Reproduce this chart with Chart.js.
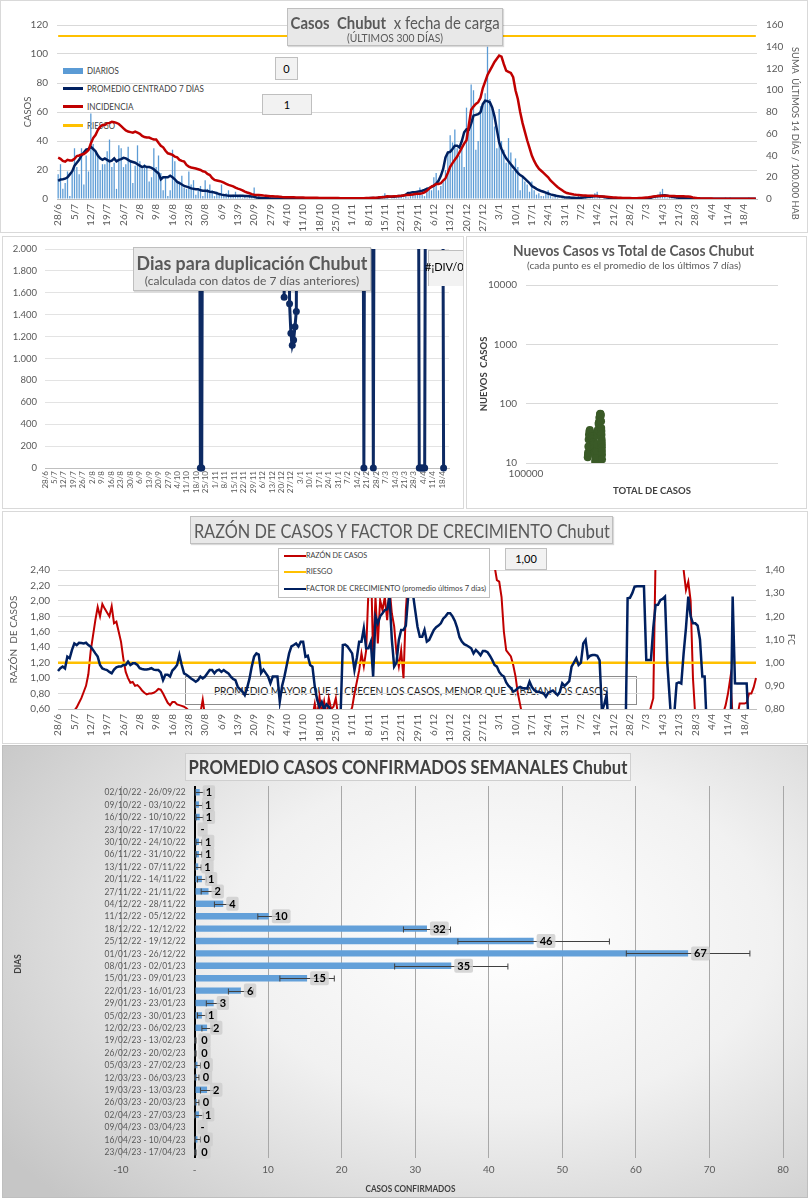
<!DOCTYPE html>
<html><head><meta charset="utf-8">
<script src="https://cdn.jsdelivr.net/npm/chart.js@4.4.1/dist/chart.umd.min.js"></script>
<style>
body{margin:0;background:#fff;width:808px;height:1200px;position:relative;overflow:hidden;font-family:Lato,'Open Sans',sans-serif;}
.panel{position:absolute;box-sizing:border-box;border:1px solid #d9d9d9;z-index:2;}
.panel canvas{position:absolute;left:0;top:0;}
.ov{position:absolute;box-sizing:border-box;z-index:3;}
.un{position:absolute;box-sizing:border-box;z-index:1;}
.tbox{background:#e8e8e8;border:1px solid #bfbfbf;color:#595959;box-shadow:1px 1px 1px rgba(0,0,0,0.15);white-space:nowrap;}
.vbox{background:#f2f2f2;border:1px solid #bfbfbf;color:#000;text-align:center;font-size:11px;}
.leg{position:absolute;font-size:9px;color:#404040;white-space:nowrap;}
.sw{position:absolute;}
.c{display:flex;justify-content:center;align-items:center;white-space:nowrap;}
.fit{display:inline-block;white-space:nowrap;transform-origin:center center;flex:none;}
.fitl{display:inline-block;white-space:nowrap;transform-origin:left center;}
</style></head>
<body>

<!-- ========== PANEL 1 ========== -->
<div class="un" style="left:0;top:0;width:808px;height:233px;">
  <div class="sw" style="left:63px;top:68px;width:20px;height:6px;background:#5B9BD5;"></div>
  <div class="leg" style="left:87px;top:65px;"><span class="fitl" data-w="32">DIARIOS</span></div>
  <div class="sw" style="left:63px;top:87px;width:20px;height:3px;background:#002060;"></div>
  <div class="leg" style="left:87px;top:83px;"><span class="fitl" data-w="117">PROMEDIO CENTRADO 7 DÍAS</span></div>
  <div class="sw" style="left:63px;top:105px;width:20px;height:3px;background:#C00000;"></div>
  <div class="leg" style="left:87px;top:101px;"><span class="fitl" data-w="46">INCIDENCIA</span></div>
  <div class="sw" style="left:63px;top:124px;width:20px;height:3px;background:#FFC000;"></div>
  <div class="leg" style="left:87px;top:120px;"><span class="fitl" data-w="28">RIESGO</span></div>
</div>
<div class="panel" style="left:0;top:0;width:808px;height:233px;"><canvas id="c1" width="806" height="231"></canvas></div>
<div class="ov c" style="left:695px;top:126px;width:200px;height:14px;font-size:9.5px;line-height:14px;color:#595959;transform:rotate(90deg);transform-origin:center center;"><span class="fit" data-w="173">SUMA&nbsp; ÚLTIMOS 14 DÍAS / 100.000 HAB</span></div>
<div class="ov tbox" style="left:287px;top:8px;width:216px;height:38px;">
  <div class="c" style="font-size:17px;height:20px;margin-top:3px;"><span class="fit" data-w="209"><b>Casos&nbsp; Chubut</b>&nbsp; x fecha de carga</span></div>
  <div class="c" style="font-size:10.5px;height:12px;"><span class="fit" data-w="96">(ÚLTIMOS 300 DÍAS)</span></div>
</div>
<div class="ov vbox" style="left:275px;top:57px;width:23px;height:23px;line-height:21px;">0</div>
<div class="ov vbox" style="left:262px;top:94px;width:50px;height:21px;line-height:19px;">1</div>

<!-- ========== PANEL 2 ========== -->
<div class="panel" style="left:2px;top:236px;width:462px;height:273px;"><canvas id="c2" width="460" height="271"></canvas></div>
<div class="ov tbox" style="left:133px;top:247px;width:238px;height:44px;">
  <div class="c" style="font-size:18px;height:21px;margin-top:4px;font-weight:bold;"><span class="fit" data-w="231">Dias para duplicación Chubut</span></div>
  <div class="c" style="font-size:12px;height:14px;"><span class="fit" data-w="214">(calculada con datos de 7 días anteriores)</span></div>
</div>
<div class="ov" style="left:423px;top:250px;width:40px;height:36px;overflow:hidden;">
  <div class="vbox" style="position:absolute;left:5px;top:0;width:40px;height:35px;"></div>
  <div style="position:absolute;left:2px;top:10px;font-size:11px;color:#000;white-space:nowrap;">#¡DIV/0!</div>
</div>

<!-- ========== PANEL 3 ========== -->
<div class="panel" style="left:466px;top:236px;width:341px;height:273px;"><canvas id="c3" width="339" height="271"></canvas></div>
<div class="ov c" style="left:466px;top:241px;width:336px;height:18px;font-size:15px;font-weight:bold;color:#595959;"><span class="fit" data-w="241">Nuevos Casos vs Total de Casos Chubut</span></div>
<div class="ov c" style="left:466px;top:259px;width:336px;height:12px;font-size:10px;color:#595959;"><span class="fit" data-w="214">(cada punto es el promedio de los últimos 7 días)</span></div>

<!-- ========== PANEL 4 ========== -->
<div class="un c" style="left:185px;top:676px;width:452px;height:29px;border:1px solid #8c8c8c;font-size:11px;color:#262626;"><span class="fit" data-w="394">PROMEDIO MAYOR QUE 1, CRECEN LOS CASOS, MENOR QUE 1, BAJAN LOS CASOS</span></div>
<div class="panel" style="left:2px;top:511px;width:806px;height:233px;"><canvas id="c4" width="804" height="231"></canvas></div>
<div class="ov tbox c" style="left:190px;top:516px;width:423px;height:28px;font-size:20px;"><span class="fit" data-w="416">RAZÓN DE CASOS Y FACTOR DE CRECIMIENTO Chubut</span></div>
<div class="ov" style="left:278px;top:548px;width:212px;height:50px;background:#fff;border:1px solid #bfbfbf;">
  <div class="sw" style="left:5px;top:6px;width:22px;height:2px;background:#C00000;"></div>
  <div class="leg" style="left:27px;top:1px;font-size:8px;"><span class="fitl" data-w="61">RAZÓN DE CASOS</span></div>
  <div class="sw" style="left:5px;top:22px;width:22px;height:2px;background:#FFC000;"></div>
  <div class="leg" style="left:27px;top:17px;font-size:8px;"><span class="fitl" data-w="26">RIESGO</span></div>
  <div class="sw" style="left:5px;top:39px;width:22px;height:2px;background:#002060;"></div>
  <div class="leg" style="left:27px;top:34px;font-size:8px;"><span class="fitl" data-w="180">FACTOR DE CRECIMIENTO (promedio últimos 7 días)</span></div>
</div>
<div class="ov vbox" style="left:505px;top:548px;width:42px;height:22px;line-height:20px;">1,00</div>

<!-- ========== PANEL 5 ========== -->
<div class="panel" style="left:2px;top:745px;width:806px;height:453px;border-color:#bfbfbf;background:radial-gradient(ellipse 75% 85% at 62% 42%, #ffffff 0%, #f1f1f1 45%, #d6d6d6 80%, #c6c6c6 100%);"><canvas id="c5" width="804" height="451"></canvas></div>
<div class="ov c" style="left:185px;top:753px;width:446px;height:28px;border:1px solid #cfcfcf;background:rgba(255,255,255,0.35);font-size:18px;font-weight:bold;color:#404040;"><span class="fit" data-w="439">PROMEDIO CASOS CONFIRMADOS SEMANALES Chubut</span></div>
<div class="ov c" style="left:340px;top:1182px;width:140px;height:12px;font-size:9px;font-weight:bold;color:#404040;"><span class="fit" data-w="90">CASOS CONFIRMADOS</span></div>
<div class="ov c" style="left:0px;top:958px;width:36px;height:12px;font-size:8.5px;font-weight:bold;color:#404040;transform:rotate(-90deg);transform-origin:center center;">DIAS</div>

<script>
// ---------------- DATA ----------------
const numeroDias = 300; // 28/6/2022 .. 23/4/2023
const etiquetasSemana = ['28/6','5/7','12/7','19/7','26/7','2/8','9/8','16/8','23/8','30/8','6/9','13/9','20/9','27/9','4/10','11/10','18/10','25/10','1/11','8/11','15/11','22/11','29/11','6/12','13/12','20/12','27/12','3/1','10/1','17/1','24/1','31/1','7/2','14/2','21/2','28/2','7/3','14/3','21/3','28/3','4/4','11/4','18/4'];

const diarios = [
17,24,7,11,19,2,18,
35,22,17,35,10,30,19,
59,38,33,30,20,24,24,
33,41,22,25,7,37,35,
22,24,36,26,11,23,37,
26,21,24,22,12,15,35,
22,30,18,6,15,2,6,
34,26,11,12,16,8,7,
19,10,13,3,6,9,2,
13,7,10,6,2,5,4,
10,3,4,6,2,3,5,
2,3,1,2,1,3,2,
8,1,2,1,0,3,1,
2,1,0,1,0,2,0,
1,0,0,1,0,0,1,
0,1,0,0,1,0,0,
0,0,1,0,0,0,0,
1,0,0,1,0,0,1,
0,1,0,1,0,0,1,
0,1,1,0,1,0,1,
4,1,0,2,1,1,2,
2,1,3,1,2,3,4,
5,8,3,2,8,7,6,
15,18,6,9,12,20,33,
44,39,48,35,30,36,22,
63,48,79,75,34,40,64,
64,73,105,69,62,50,35,
62,40,34,25,42,32,20,
28,22,6,15,12,10,5,
12,6,3,4,2,2,4,
6,2,1,3,1,0,2,
1,0,2,1,1,0,3,
3,1,2,0,1,2,4,
5,2,0,1,0,0,1,
0,1,0,0,0,1,0,
1,0,0,1,0,1,0,
0,0,1,0,1,2,5,
7,3,1,2,2,1,1,
0,1,0,1,0,0,1,
0,0,1,0,0,0,0,
0,0,0,0,0,0,1,
0,1,0,0,0,0,0,
0,0,1,0,0,0];

const promedio7 = [
12.5,13.5,13.6,14,15,17,19,23,25,27,
30,32,34,34.5,36,34.5,33,30,28,27,
28,27,26,26.5,28,26,27,27.5,28.4,28,
27,26,25.5,25,24,23,22,22.7,22,22,
21.5,20.5,19,17.7,13.6,15,15,15,16,15,
13.6,11.8,11,10,9,8.5,8,7.3,7,6.8,
6.8,6,5.7,5.7,5.5,5,4.8,4.5,4,3.4,
3,2.7,2.5,2.3,2.3,2.3,2.3,2.3,2.2,2.3,
2,2,1.9,1.8,1.5,1.1,0.9,0.7,0.5,0.5,
0.5,0.4,0.4,0.3,0.3,0.4,0.3,0.3,0.3,0.3,
0.4,0.3,0.3,0.3,0.2,0.3,0.3,0.2,0.3,0.3,
0.2,0.2,0.2,0.2,0.3,0.3,0.2,0.3,0.3,0.3,
0.3,0.4,0.3,0.4,0.4,0.3,0.4,0.4,0.5,0.4,
0.4,0.6,0.6,0.6,0.7,0.7,0.6,0.8,1.1,1.3,
1.4,1.4,1.6,1.6,1.6,1.9,2,2.1,2.4,3,
4.1,4.3,4.6,4.7,5,5.3,5.7,6.2,6.9,7.5,
8.3,9.2,10.5,12.6,16,20.7,28.7,32,32.5,34.5,
36.8,36.8,35.6,40,46,48,47.8,52,57.5,58,
58.5,59.8,65.5,67.8,67.5,66.7,63.2,57,48,39,
34.5,31,28,26,24,22,20,18,16.5,15.5,
14,12.5,11,9,8,7,6.2,5.5,5,4.4,
3.8,3.2,2.8,2.4,2,1.8,1.5,1.2,1.1,1,
0.9,0.8,0.7,0.7,0.8,1,1.2,1.4,1.6,1.8,
2,2,1.8,1.7,1.4,1.1,0.9,0.7,0.5,0.4,
0.3,0.3,0.3,0.4,0.4,0.4,0.4,0.3,0.4,0.4,
0.4,0.3,0.4,0.7,0.9,1.3,1.7,2,2.3,2.5,
2.6,2.3,2,1.6,1.3,1,0.9,0.7,0.6,0.6,
0.4,0.3,0.3,0.3,0.3,0.2,0.2,0.2,0.1,0.1,
0.1,0.1,0.2,0.2,0.2,0.2,0.2,0.2,0.2,0.1,
0.1,0.2,0.2,0.2,0.2,0.2,0.2,0.1,0.1,0.1];

const incidencia = [
38,37,35,34.3,36,35.5,35.5,37,39.5,40,
41,41.4,43,45,51,56,58.8,63.4,66.5,68,
68,69.6,70,71,70.5,70,69,67,65,63,
62,61.5,61,62,61,60,58,57,56.5,56.5,
55.5,54.8,54.8,51.8,49,47.5,44.4,42,41.4,40.5,
39,38.3,36,35,34.4,31.3,29.8,29,28.5,28,
27.4,26.7,25.5,25,23,22,19.3,17.5,17,16.5,
16,15,14,13,12.3,11.6,10.5,9.5,8.9,8,
6.8,6,5.3,4.5,4,3.7,3.7,3.5,3.2,3,
2.8,2.6,2.5,2.4,2.2,2,1.8,1.7,1.6,1.6,
1.5,1.5,1.4,1.4,1.3,1.3,1.2,1.2,1.2,1.1,
1.1,1.1,1,1,1,1,0.9,0.9,0.9,0.9,
0.9,0.8,0.8,0.8,0.8,0.8,0.8,0.8,0.7,0.7,
0.7,0.8,0.9,0.9,1,1.1,1.2,1.3,1.5,1.6,
1.8,2.5,2.4,2.2,2.5,2.6,2.8,3,3.3,3.6,
3.7,3.9,4.2,4.6,4.8,4.9,5.3,6.1,7.5,9.5,
11.5,12.3,13.8,13.8,14.5,17,19,24,29.6,33,
36,39,43,47,51,54,68,82,85,87.4,
89,93,102,108,114,118,122,126,129,132,
131,124,118,117,116,112,100,92,80,70,
62,54,47,40,35,31,28,26,24,22,
20,17,15,13,11,9.5,8,6.5,5.5,5,
4.6,4.2,3.9,3.7,3.5,3.3,3.2,3.1,3,2.9,
2.8,2.8,2.6,2.4,2.2,2,1.8,1.6,1.4,1.3,
1.2,1.1,1,1,0.9,0.9,0.8,0.8,0.8,0.9,
1,1.2,1.4,1.6,1.9,2.2,2.5,2.7,2.8,3,
3,2.9,2.8,2.8,2.7,2.6,2.6,2.5,2.5,2.4,
2.3,2,1.5,1.1,0.8,0.6,0.5,0.5,0.4,0.4,
0.4,0.3,0.3,0.3,0.3,0.3,0.3,0.3,0.3,0.3,
0.3,0.3,0.3,0.3,0.3,0.3,0.3,0.3,0.3,0.3];

const riesgoIncidencia = 150;

// days-to-doubling: only the days that have a value (others are empty)
const dupDias    = [114,115,116,117, 176,177,178,179,180,181,182,183,184,185,186,187, 235,236,237, 242,243,244, 276,277,278,279,280,281,282, 294,295];
const dupValores = [5000,0,0,5000, 5000,1560,5000,5000,5000,1500,1230,1120,1170,1290,1430,5000, 5000,0,5000, 5000,0,5000, 5000,0,0,0,0,0,5000, 5000,0];

// scatter: total cases vs new cases (7-day average)
const totalCasos = [175800,176100,176400,176800,177300,177800,178500,179200,179900,180500,181000,181600,182100,182600,183200,183700,184200,184700,185200,185600,186000,186400,186800,187100,187400,187700,188000,188200,188400,
190500,190800,191100,191400,191800,192200,192700,193200,193600,194100,194600,195100,195600,196100,196600,197100,197600,198100,198500,198800,199100,199300,199500,199700,199850,200000,200100,200200,200300];
const nuevosCasos = [12.5,13.6,15,19,25,30,34,36,33,28,28,26,26.5,26,27.5,28,26,25,23,22.7,22,20.5,17.7,15,15,15,13.6,11,10,
10.5,12.6,16,20.7,28.7,32,34.5,36.8,35.6,46,48,47.8,57.5,59.8,65.5,67.8,66.7,63.2,50.6,39,34.5,30,25.3,23,20.7,18.4,16,13.8,11.5];

const razonCasos = [
0.5,0.48,0.45,0.42,0.45,0.5,0.55,0.58,0.62,0.68,
0.74,0.82,0.9,1.05,1.35,1.55,1.75,1.92,1.8,1.96,
1.9,1.85,1.8,1.93,1.71,1.73,1.6,1.47,1.25,1.08,
1.0,0.94,0.95,0.9,0.91,0.88,0.84,0.81,0.79,0.8,
0.8,0.81,0.83,0.86,0.85,0.8,0.74,0.68,0.65,0.69,
0.69,0.66,0.65,0.64,0.63,0.61,0.58,0.55,0.5,0.48,
0.5,0.55,0.72,0.5,0.45,0.42,0.4,0.45,0.38,0.35,
0.4,0.3,0.35,0.4,0.3,0.45,0.35,0.3,0.4,0.35,
0.3,0.4,0.45,0.35,0.5,0.4,0.3,0.35,0.45,0.4,
0.3,0.4,0.35,0.3,0.45,0.4,0.35,0.3,0.4,0.45,
0.35,0.4,0.5,0.45,0.4,0.4,0.5,0.45,0.55,0.5,
0.67,0.5,0.76,0.55,0.7,0.5,0.74,0.6,0.63,0.74,
0.5,0.45,0.4,0.35,0.45,0.55,0.62,0.8,0.95,1.1,
1.32,1.15,1.36,2.14,2.6,1.23,2.05,1.45,2.01,1.88,
2.05,1.75,2.18,1.84,1.67,1.32,1.15,1.36,1.0,1.88,
2.31,2.8,3.1,2.9,3.3,3.0,2.8,3.2,3.5,3.1,
3.4,3.0,3.3,3.6,3.2,3.5,3.8,3.4,3.1,3.3,
3.0,3.2,2.9,3.1,3.4,3.0,2.8,3.1,2.9,2.7,
2.9,2.8,2.7,2.6,2.7,2.6,2.55,2.45,2.27,2.25,
2.05,1.6,1.36,1.32,1.28,1.17,1.02,0.8,0.65,0.5,
0.45,0.4,0.35,0.3,0.3,0.25,0.3,0.2,0.25,0.3,
0.2,0.25,0.3,0.2,0.3,0.25,0.2,0.3,0.25,0.2,
0.3,0.25,0.3,0.2,0.25,0.3,0.2,0.3,0.25,0.3,
0.2,0.25,0.3,0.2,0.3,0.25,0.2,0.3,0.25,0.2,
0.3,0.25,0.2,0.3,0.25,0.2,0.3,0.25,0.3,0.35,
0.4,0.45,0.5,0.5,0.63,0.74,2.6,3.0,3.2,2.9,
2.8,3.1,3.0,2.9,2.8,2.7,2.6,2.5,2.4,2.14,
2.25,2.0,1.0,0.5,0.4,0.3,0.35,0.3,0.25,0.3,
0.3,0.35,0.4,0.45,0.5,0.55,0.65,0.8,1.0,0.5,
0.45,0.5,0.67,0.67,0.67,0.68,0.8,0.8,0.88,1.0];

const factorCrecimiento = [
0.964,0.976,0.983,0.975,1.026,1.019,1.055,1.083,1.076,1.086,
1.085,1.083,1.086,1.076,1.069,1.055,1.04,1.026,0.99,0.975,
0.971,0.968,0.96,0.954,0.97,0.98,0.983,0.983,0.99,0.99,
1.004,0.99,0.997,0.997,0.99,0.976,0.973,0.971,0.971,0.973,
0.976,0.97,0.968,0.968,0.958,0.925,0.948,0.948,0.94,0.966,
0.976,0.99,1.033,0.99,0.954,0.948,0.94,0.932,0.925,0.918,
0.925,0.94,0.932,0.94,0.954,0.968,0.968,0.954,0.966,0.97,
0.96,0.968,0.96,0.954,0.94,0.93,0.925,0.896,0.885,0.875,
0.86,0.89,0.93,0.983,1.026,1.04,1.035,0.955,0.97,0.955,
0.94,0.911,0.94,0.94,0.94,0.832,0.9,0.94,0.99,1.04,
1.07,1.076,1.083,1.07,1.09,1.09,1.026,1.03,0.99,0.983,
0.897,0.84,0.81,0.83,0.8,0.82,0.81,0.79,0.78,0.76,
0.75,0.76,1.076,1.078,1.07,1.055,1.04,0.968,1.02,1.09,
1.09,1.148,1.062,1.062,1.09,0.94,1.199,1.17,1.2,1.213,
1.227,1.23,1.285,1.1,0.983,1.0,1.098,1.141,1.141,1.16,
1.285,1.33,1.3,1.227,1.155,1.112,1.112,1.141,1.091,1.098,
1.12,1.141,1.153,1.16,1.17,1.19,1.2,1.213,1.213,1.2,
1.18,1.15,1.11,1.091,1.08,1.075,1.069,1.062,1.04,1.055,
1.045,1.032,1.05,1.05,1.045,1.03,1.012,0.99,0.983,0.96,
0.947,0.94,0.915,0.9,0.89,0.875,0.88,0.89,0.895,0.89,
0.89,0.888,0.918,0.895,0.882,0.875,0.875,0.87,0.868,0.853,
0.87,0.875,0.88,0.87,0.86,0.875,0.911,0.9,0.91,0.92,
0.983,1.0,1.019,0.99,1.0,1.083,1.098,1.02,1.03,1.033,
1.033,1.03,1.01,0.79,0.82,0.86,0.7,0.6,0.6,0.6,
0.6,0.6,0.6,0.6,1.278,1.28,1.3,1.328,1.33,1.33,
1.33,1.33,1.012,1.012,1.012,1.15,1.249,1.25,1.27,1.275,
1.285,1.0,0.85,0.7,0.78,0.911,0.915,0.91,1.04,1.15,
1.285,1.2,1.17,1.17,1.16,1.1,0.94,0.94,0.7,0.6,
0.6,0.6,0.6,0.6,0.6,0.6,0.6,0.6,0.6,1.285,
0.911,0.91,0.91,0.91,0.91,0.91,0.7,0.6,0.6,0.6];

const riesgoFC = 1.0;

const semanas = ['02/10/22 - 26/09/22','09/10/22 - 03/10/22','16/10/22 - 10/10/22','23/10/22 - 17/10/22','30/10/22 - 24/10/22','06/11/22 - 31/10/22','13/11/22 - 07/11/22','20/11/22 - 14/11/22','27/11/22 - 21/11/22','04/12/22 - 28/11/22','11/12/22 - 05/12/22','18/12/22 - 12/12/22','25/12/22 - 19/12/22','01/01/23 - 26/12/22','08/01/23 - 02/01/23','15/01/23 - 09/01/23','22/01/23 - 16/01/23','29/01/23 - 23/01/23','05/02/23 - 30/01/23','12/02/23 - 06/02/23','19/02/23 - 13/02/23','26/02/23 - 20/02/23','05/03/23 - 27/02/23','12/03/23 - 06/03/23','19/03/23 - 13/03/23','26/03/23 - 20/03/23','02/04/23 - 27/03/23','09/04/23 - 03/04/23','16/04/23 - 10/04/23','23/04/23 - 17/04/23'];
const promedioSemanal = [0.7,0.6,0.7,0,0.6,0.6,0.5,1.0,1.9,3.9,10.1,31.6,46.1,67.1,34.9,15.3,6.3,2.6,1.0,1.7,0.1,0.1,0.4,0.3,1.7,0.3,0.6,0,0.4,0.1];
const errorSemanal    = [0.6,0.5,0.5,0,0.4,0.4,0.4,0.6,1.0,1.2,1.5,3.2,10.3,8.4,7.7,3.7,1.7,1.0,0.6,0.7,0.1,0.1,0.4,0.3,0.9,0.3,0.6,0,0.4,0.1];

// ---------------- TEXT FITTING (Calibri-like width) ----------------
document.querySelectorAll('[data-w]').forEach((el) => {
  const w = el.offsetWidth;
  const t = parseFloat(el.dataset.w);
  if (w > 0) el.style.transform = 'scaleX(' + (t / w).toFixed(3) + ')';
});

// ---------------- HELPERS ----------------
Chart.defaults.font.family = "Lato, 'Open Sans', sans-serif";
Chart.defaults.color = '#595959';
const dias = [];
for (let i = 0; i < numeroDias; i++) dias.push(i);
const constante = (v) => dias.map(() => v);
const dupSerie = dias.map(() => null);
dupDias.forEach((d, k) => { dupSerie[d] = dupValores[k]; });

function ejeDias(h, size, pad, offset) {
  return {
    type: 'category', offset: offset,
    grid: { display: false, drawTicks: false },
    border: { display: true, color: '#bfbfbf' },
    ticks: { autoSkip: false, minRotation: 90, maxRotation: 90, padding: pad, font: { size: size }, color: '#595959',
      callback: (v, i) => (i % 7 === 0 ? etiquetasSemana[i / 7] : '') },
    afterFit: (s) => { s.height = h; s.paddingLeft = 0; s.paddingRight = 0; }
  };
}
function anchoY(w) { return (s) => { s.width = w; s.paddingTop = 0; s.paddingBottom = 0; }; }
const coma = (d) => (v) => v.toFixed(d).replace('.', ',');
const base = { responsive: false, animation: false, devicePixelRatio: 1, plugins: { legend: { display: false }, tooltip: { enabled: false } } };

// ---------------- CHART 1 ----------------
new Chart(document.getElementById('c1'), {
  type: 'bar',
  data: { labels: dias, datasets: [
    { type: 'line', data: constante(riesgoIncidencia), yAxisID: 'y2', borderColor: '#FFC000', borderWidth: 2, pointRadius: 0, order: 1 },
    { type: 'line', data: incidencia, yAxisID: 'y2', borderColor: '#C00000', borderWidth: 2.5, pointRadius: 0, order: 2 },
    { type: 'line', data: promedio7, yAxisID: 'y', borderColor: '#002060', borderWidth: 2.5, pointRadius: 0, order: 3 },
    { type: 'bar', data: diarios, yAxisID: 'y', backgroundColor: '#5B9BD5', barPercentage: 1, categoryPercentage: 0.55, order: 4 }
  ]},
  options: Object.assign({}, base, {
    layout: { padding: { top: 24, left: 0, right: 0, bottom: 0 } },
    scales: {
      x: ejeDias(33, 10, 5, true),
      y: { position: 'left', min: 0, max: 120, ticks: { stepSize: 20, padding: 9, font: { size: 10 } },
           grid: { color: '#d9d9d9', drawTicks: false }, border: { display: false },
           title: { display: true, text: 'CASOS', font: { size: 9.5 }, padding: { top: 21, bottom: 0 } }, afterFit: anchoY(56) },
      y2: { position: 'right', min: 0, max: 160, ticks: { stepSize: 20, padding: 9, font: { size: 10 } },
           grid: { display: false, drawTicks: false }, border: { display: false }, afterFit: anchoY(50) }
    }
  })
});

// ---------------- CHART 2 ----------------
const miles = (v) => (v >= 1000 ? Math.floor(v / 1000) + '.' + String(v % 1000).padStart(3, '0') : String(v));
new Chart(document.getElementById('c2'), {
  type: 'line',
  data: { labels: dias, datasets: [
    { data: dupSerie, borderColor: '#0d2a63', backgroundColor: '#0d2a63', borderWidth: 3, pointRadius: 3.5, pointBorderWidth: 0,
      spanGaps: false, clip: { left: 6, right: 6, top: 0, bottom: 8 } }
  ]},
  options: Object.assign({}, base, {
    layout: { padding: { top: 12, left: 0, right: 14, bottom: 0 } },
    scales: {
      x: ejeDias(40, 8, 3, false),
      y: { min: 0, max: 2000, ticks: { stepSize: 200, padding: 8, font: { size: 9.5 }, callback: miles },
           grid: { color: '#e3e3e3', drawTicks: false }, border: { display: false }, afterFit: anchoY(42) }
    }
  })
});

// ---------------- CHART 3 ----------------
new Chart(document.getElementById('c3'), {
  type: 'scatter',
  data: { datasets: [
    { data: totalCasos.map((t, i) => ({ x: t, y: nuevosCasos[i] })), backgroundColor: '#3a5a27', borderColor: '#3a5a27', pointRadius: 4, borderWidth: 0 }
  ]},
  options: Object.assign({}, base, {
    layout: { padding: { top: 48, left: 0, right: 28, bottom: 0 } },
    scales: {
      x: { type: 'logarithmic', min: 100000, max: 1000000, grid: { display: false, drawTicks: false }, border: { display: false },
           afterBuildTicks: (s) => { s.ticks = [{ value: 100000 }]; },
           ticks: { padding: 5, font: { size: 10 }, callback: (v) => String(v) },
           title: { display: true, text: 'TOTAL DE CASOS', font: { size: 9.5, weight: 'bold' }, color: '#404040', padding: { top: 0, bottom: 11 } },
           afterFit: (s) => { s.height = 45; s.paddingLeft = 0; s.paddingRight = 0; } },
      y: { type: 'logarithmic', min: 10, max: 10000, grid: { color: '#d9d9d9', drawTicks: false }, border: { display: false },
           afterBuildTicks: (s) => { s.ticks = [10, 100, 1000, 10000].map((v) => ({ value: v })); },
           ticks: { padding: 9, font: { size: 10 }, callback: (v) => String(v) },
           title: { display: true, text: 'NUEVOS  CASOS', font: { size: 9.5, weight: 'bold' }, color: '#404040', padding: { top: 11, bottom: 0 } },
           afterFit: anchoY(59) }
    }
  })
});

// ---------------- CHART 4 ----------------
new Chart(document.getElementById('c4'), {
  type: 'line',
  data: { labels: dias, datasets: [
    { data: factorCrecimiento, yAxisID: 'y2', borderColor: '#002060', borderWidth: 2.5, pointRadius: 0, order: 1 },
    { data: constante(riesgoFC), yAxisID: 'y2', borderColor: '#FFC000', borderWidth: 2.5, pointRadius: 0, order: 2 },
    { data: razonCasos, yAxisID: 'y', borderColor: '#C00000', borderWidth: 2, pointRadius: 0, order: 3 }
  ]},
  options: Object.assign({}, base, {
    layout: { padding: { top: 58, left: 0, right: 0, bottom: 0 } },
    scales: {
      x: ejeDias(34, 10, 5, false),
      y: { position: 'left', min: 0.6, max: 2.4, ticks: { stepSize: 0.2, padding: 8, font: { size: 10 }, callback: coma(2) },
           grid: { color: '#d9d9d9', drawTicks: false }, border: { display: false },
           title: { display: true, text: 'RAZÓN  DE CASOS', font: { size: 10 }, padding: { top: 5, bottom: 0 } }, afterFit: anchoY(55) },
      y2: { position: 'right', min: 0.8, max: 1.4, ticks: { stepSize: 0.1, padding: 9, font: { size: 10 }, callback: coma(2) },
           grid: { display: false, drawTicks: false }, border: { display: false },
           title: { display: true, text: 'FC', font: { size: 9 }, padding: { top: 11, bottom: 0 } }, afterFit: anchoY(51) }
    }
  })
});

// ---------------- CHART 5 ----------------
const erroresYEtiquetas = {
  id: 'erroresYEtiquetas',
  afterDatasetsDraw(chart) {
    const { ctx, scales: { x, y } } = chart;
    ctx.save();
    // category labels, right-aligned against the zero axis
    ctx.font = "10px Lato, 'Open Sans', sans-serif";
    ctx.fillStyle = '#595959';
    ctx.textAlign = 'right';
    ctx.textBaseline = 'middle';
    const x0 = x.getPixelForValue(0);
    semanas.forEach((s, i) => {
      ctx.fillText(s, x0 - 9, y.getPixelForValue(i), 81);
    });
    // error bars
    ctx.strokeStyle = '#404040';
    ctx.lineWidth = 1;
    promedioSemanal.forEach((v, i) => {
      const e = errorSemanal[i];
      if (!e) return;
      const yc = Math.round(y.getPixelForValue(i)) + 0.5;
      const x1 = x.getPixelForValue(v - e), x2 = x.getPixelForValue(v + e);
      ctx.beginPath();
      ctx.moveTo(x1, yc); ctx.lineTo(x2, yc);
      ctx.moveTo(x1, yc - 3); ctx.lineTo(x1, yc + 3);
      ctx.moveTo(x2, yc - 3); ctx.lineTo(x2, yc + 3);
      ctx.stroke();
    });
    // data labels
    ctx.font = "bold 11px Lato, 'Open Sans', sans-serif";
    ctx.textAlign = 'center';
    promedioSemanal.forEach((v, i) => {
      const txt = v === 0 ? '-' : String(Math.round(v));
      const yc = y.getPixelForValue(i);
      const xe = x.getPixelForValue(v);
      const w = ctx.measureText(txt).width + 6;
      const bx = xe + 3;
      ctx.fillStyle = 'rgba(205,205,205,0.8)';
      ctx.beginPath();
      if (ctx.roundRect) ctx.roundRect(bx, yc - 7, w, 14, 2); else ctx.rect(bx, yc - 7, w, 14);
      ctx.fill();
      ctx.fillStyle = '#000';
      ctx.fillText(txt, bx + w / 2, yc + 0.5);
    });
    ctx.restore();
  }
};
new Chart(document.getElementById('c5'), {
  type: 'bar',
  data: { labels: semanas, datasets: [
    { data: promedioSemanal, backgroundColor: '#63a0d9', barPercentage: 0.52, categoryPercentage: 1 }
  ]},
  options: Object.assign({}, base, {
    indexAxis: 'y',
    layout: { padding: { top: 40, left: 0, right: 24, bottom: 0 } },
    scales: {
      x: { min: -10, max: 80, ticks: { stepSize: 10, padding: 6, font: { size: 10 }, callback: (v) => (v === 0 ? '-' : String(v)) },
           grid: { drawTicks: false, color: (c) => (c.tick && c.tick.value === 0 ? '#000' : '#a8a8a8'), lineWidth: (c) => (c.tick && c.tick.value === 0 ? 2 : 1) },
           border: { display: false },
           afterFit: (s) => { s.height = 39; s.paddingLeft = 0; s.paddingRight = 0; } },
      y: { grid: { display: false, drawTicks: false }, border: { display: false },
           ticks: { display: false },
           afterFit: anchoY(118) }
    }
  }),
  plugins: [erroresYEtiquetas]
});
</script>
</body></html>
